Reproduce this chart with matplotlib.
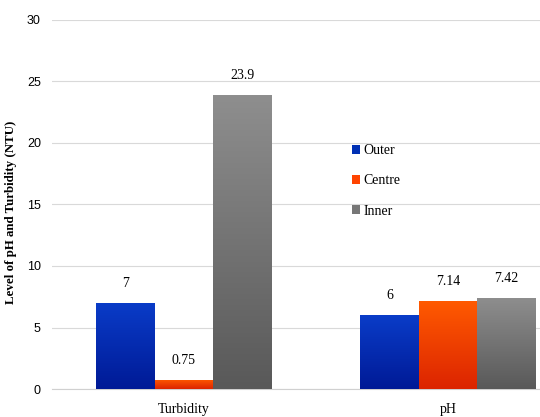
import matplotlib.pyplot as plt
from matplotlib.colors import LinearSegmentedColormap
import numpy as np

# Chart data
categories = ['Turbidity', 'pH']
series = ['Outer', 'Centre', 'Inner']
outer = [7, 6]
centre = [0.75, 7.14]
inner = [23.9, 7.42]
value_labels = [['7', '6'], ['0.75', '7.14'], ['23.9', '7.42']]

# gradient colours (bottom, top) per series
grad = [('#001a96', '#0a3cc8'), ('#dc2400', '#ff5a00'), ('#595959', '#8e8e8e')]
solid = ['#0030b4', '#ff4400', '#777777']

serif = 'Liberation Serif'

fig = plt.figure(figsize=(5.4, 4.17), dpi=100)
ax = fig.add_axes([52 / 540, 28 / 417, 528 / 540, 369 / 417])

x = np.arange(len(categories))
w = 0.221
all_vals = [outer, centre, inner]
for i, vals in enumerate(all_vals):
    bars = ax.bar(x + (i - 1) * w, vals, w, color=solid[i], label=series[i], zorder=2)
    cmap = LinearSegmentedColormap.from_list('g%d' % i, [grad[i][0], grad[i][1]])
    for j, b in enumerate(bars):
        x0, h = b.get_x(), b.get_height()
        g = np.linspace(0, 1, 100).reshape(-1, 1)
        im = ax.imshow(g, cmap=cmap, origin='lower', aspect='auto',
                       extent=(x0, x0 + b.get_width(), 0, h), zorder=3)
        im.set_clip_path(b)
        ax.text(x0 + b.get_width() / 2, h + 1.05, value_labels[i][j],
                ha='center', va='bottom', fontsize=10, family=serif, zorder=4)

ax.set_xlim(-0.5, 1.5)
ax.set_ylim(0, 30)
ax.set_yticks(range(0, 31, 5))
ax.set_xticks(x)
ax.set_xticklabels(categories, family=serif, fontsize=10)
ax.tick_params(axis='y', length=0, labelsize=9, pad=8)
ax.tick_params(axis='x', length=0, pad=10)
for lbl in ax.get_yticklabels():
    lbl.set_family('Liberation Sans')
ax.yaxis.grid(True, color='#d9d9d9', lw=0.8, zorder=0)
ax.set_axisbelow(True)
for s in ['top', 'right', 'left']:
    ax.spines[s].set_visible(False)
ax.spines['bottom'].set_color('#d0d0d0')
ax.set_ylabel('Level of pH and Turbidity (NTU)', family=serif, fontweight='bold',
              fontsize=9.3)
ax.yaxis.set_label_coords(-0.066, 0.48)

leg = ax.legend(loc='center left', bbox_to_anchor=(0.555, 0.564), frameon=False,
                borderpad=0, prop={'family': serif, 'size': 10}, handlelength=0.6,
                handleheight=0.6, handletextpad=0.2, labelspacing=1.25)

fig.savefig('out.png', dpi=100)
